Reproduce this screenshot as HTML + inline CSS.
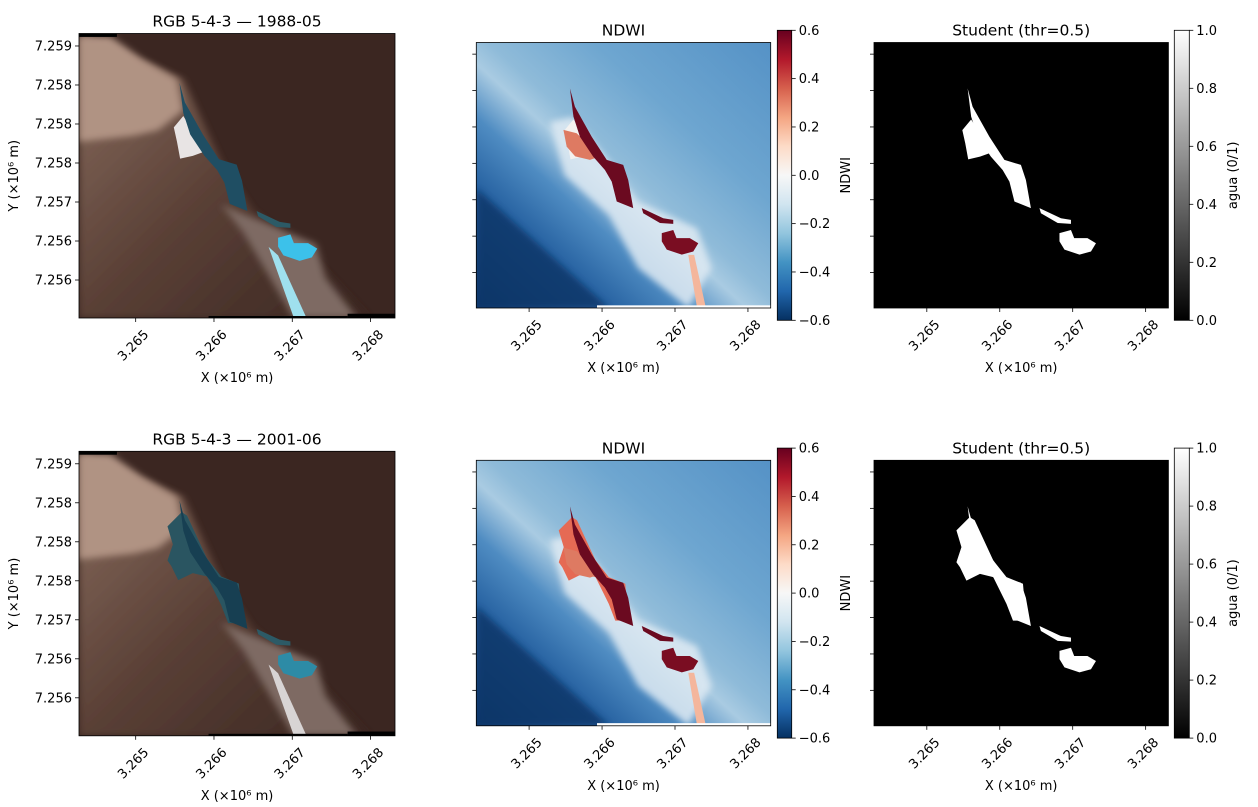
<!DOCTYPE html>
<html><head><meta charset="utf-8">
<style>
html,body{margin:0;padding:0;background:#fff;}
svg{display:block;font-family:"DejaVu Sans","Liberation Sans",sans-serif;}
</style></head>
<body>
<svg id="fig" width="1258" height="807" viewBox="0 0 1258 807" xmlns="http://www.w3.org/2000/svg">
<defs>
<linearGradient id="rdbu" x1="0" y1="0" x2="0" y2="1">
<stop offset="0" stop-color="#67001f"/><stop offset="0.1" stop-color="#b2182b"/><stop offset="0.2" stop-color="#d6604d"/><stop offset="0.3" stop-color="#f4a582"/><stop offset="0.4" stop-color="#fddbc7"/><stop offset="0.5" stop-color="#f7f7f7"/><stop offset="0.6" stop-color="#d1e5f0"/><stop offset="0.7" stop-color="#92c5de"/><stop offset="0.8" stop-color="#4393c3"/><stop offset="0.9" stop-color="#2166ac"/><stop offset="1" stop-color="#053061"/>
</linearGradient>
<linearGradient id="grays" x1="0" y1="0" x2="0" y2="1"><stop offset="0" stop-color="#ffffff"/><stop offset="1" stop-color="#000000"/></linearGradient>
<linearGradient id="ndwibg" x1="0" y1="1" x2="1" y2="0">
<stop offset="0" stop-color="#0b3a70"/><stop offset="0.22" stop-color="#245f9f"/><stop offset="0.36" stop-color="#4f8cc2"/><stop offset="0.46" stop-color="#a9cbe2"/><stop offset="0.52" stop-color="#8fbbd9"/><stop offset="0.7" stop-color="#6ea6d0"/><stop offset="1" stop-color="#5592c6"/>
</linearGradient>
<linearGradient id="landbg" x1="0" y1="0" x2="1" y2="1">
<stop offset="0" stop-color="#8a6e60"/><stop offset="0.5" stop-color="#5a4036"/><stop offset="1" stop-color="#3a2621"/>
</linearGradient>
<filter id="bl" x="-0.2" y="-0.2" width="1.4" height="1.4"><feGaussianBlur stdDeviation="0.012"/></filter>
</defs>
<g id="root"></g>
</svg>
<script>
const xTickValues = [3.265, 3.266, 3.267, 3.268];
const xTickLabels = ["3.265", "3.266", "3.267", "3.268"];
const yTickValues = [7.2590, 7.2585, 7.2580, 7.2575, 7.2570, 7.2565, 7.2560];
const yTickLabels = ["7.259", "7.258", "7.258", "7.258", "7.257", "7.256", "7.256"];
const xDomain = [3.264276, 3.268312];
const yDomain = [7.25916, 7.255513];
const ndwiTicks = [0.6, 0.4, 0.2, 0.0, -0.2, -0.4, -0.6];
const ndwiTickLabels = ["0.6", "0.4", "0.2", "0.0", "\u22120.2", "\u22120.4", "\u22120.6"];
const ndwiRange = [0.6, -0.6];
const maskTicks = [1.0, 0.8, 0.6, 0.4, 0.2, 0.0];
const maskTickLabels = ["1.0", "0.8", "0.6", "0.4", "0.2", "0.0"];
const maskRange = [1.0, 0.0];
const dates = ["1988-05", "2001-06"];

const channel = [[.318,.173],[.335,.242],[.392,.355],[.443,.442],[.499,.461],[.516,.518],[.533,.624],[.477,.599],[.460,.524],[.437,.480],[.397,.430],[.352,.355],[.330,.279]];
const link = [[.562,.624],[.635,.662],[.669,.668],[.669,.683],[.624,.680],[.567,.643]];
const heart = [[.630,.718],[.669,.706],[.680,.737],[.725,.737],[.754,.756],[.737,.787],[.698,.799],[.647,.780],[.630,.749]];
const orange = [[.296,.329],[.341,.342],[.375,.379],[.420,.429],[.386,.442],[.336,.429],[.307,.392]];
const upper1 = [[.30,.33],[.33,.29],[.37,.36],[.41,.41],[.36,.43],[.32,.44],[.31,.38]];
const upper2 = [[.280,.264],[.325,.214],[.342,.226],[.405,.377],[.450,.440],[.506,.465],[.517,.604],[.472,.604],[.450,.541],[.405,.440],[.360,.428],[.314,.453],[.292,.403],[.280,.384],[.297,.327]];

const NS = "http://www.w3.org/2000/svg";
const root = document.getElementById('root');
function el(tag, attrs, parent, text){
  const e = document.createElementNS(NS, tag);
  for (const k in attrs) e.setAttribute(k, attrs[k]);
  if (text !== undefined) e.textContent = text;
  (parent || root).appendChild(e);
  return e;
}
function pts(a){ return a.map(p => p[0] + "," + p[1]).join(" "); }

function axes(x0, y0, w, h){
  return {
    x: v => x0 + (v - xDomain[0]) / (xDomain[1] - xDomain[0]) * w,
    y: v => y0 + (v - yDomain[0]) / (yDomain[1] - yDomain[0]) * h
  };
}

function panel(row, kind, x0, y0, w, h, title){
  const g = el('g', {});
  
  
  const clipId = 'clip' + row + kind;
  const cp = el('clipPath', {id: clipId}, g);
  el('rect', {x: x0, y: y0, width: w, height: h}, cp);
  const img = el('g', {'clip-path': 'url(#' + clipId + ')'}, g);
  
  
  const s = el('g', {transform: `translate(${x0},${y0}) scale(${w},${h})`}, img);
  const up = row === 0 ? upper1 : upper2;
  if (kind === 'rgb') {
    el('rect', {x: 0, y: 0, width: 1, height: 1, fill: '#3b2621'}, s);
    el('polygon', {points: pts([[0,0],[.33,.16],[.45,.45],[.55,.62],[.75,.8],[.92,1],[0,1]]), fill: 'url(#landbg)', filter: 'url(#bl)'}, s);
    el('polygon', {points: '0,0.01 0.1,0.01 0.2,0.09 0.31,0.16 0.33,0.27 0.25,0.34 0.17,0.36 0,0.38', fill: '#b09383', filter: 'url(#bl)'}, s);
    el('polygon', {points: '0.45,0.6 0.53,0.64 0.62,0.68 0.75,0.74 0.78,0.86 0.88,1 0.68,1 0.6,0.85 0.52,0.7', fill: '#7e6a64', filter: 'url(#bl)'}, s);
    el('polygon', {points: pts(up), fill: row === 0 ? '#e8e4e4' : '#2a5561'}, s);
    el('polygon', {points: pts(channel), fill: row === 0 ? '#1f4e63' : '#173f52'}, s);
    el('polygon', {points: pts(link), fill: '#2c5a66'}, s);
    el('polygon', {points: pts(heart), fill: row === 0 ? '#3cc1ea' : '#2d8ba6'}, s);
    el('polygon', {points: '0.6,0.75 0.63,0.78 0.72,1 0.68,1', fill: row === 0 ? '#9fe0ee' : '#d8d4d4'}, s);
    el('rect', {x: 0, y: 0, width: 0.12, height: 0.012, fill: '#000'}, s);
    el('rect', {x: 0.85, y: 0.985, width: 0.15, height: 0.015, fill: '#000'}, s);
    el('rect', {x: 0.41, y: 0.993, width: 0.44, height: 0.007, fill: '#000'}, s);
  } else if (kind === 'ndwi') {
    el('rect', {x: 0, y: 0, width: 1, height: 1, fill: 'url(#ndwibg)'}, s);
    el('polygon', {points: '0,0.55 0.2,0.75 0.45,1 0,1', fill: '#0a3466', opacity: 0.8, filter: 'url(#bl)'}, s);
    el('polygon', {points: '0.25,0.3 0.33,0.28 0.45,0.45 0.55,0.6 0.75,0.7 0.8,0.85 0.72,1 0.55,0.85 0.45,0.65 0.3,0.5', fill: '#dfeaf3', opacity: 0.85, filter: 'url(#bl)'}, s);
    el('polygon', {points: pts(up), fill: row === 0 ? '#f4f2f0' : '#e56a54'}, s);
    el('polygon', {points: pts(orange), fill: '#de7a62'}, s);
    el('polygon', {points: pts(channel), fill: '#6b0a20'}, s);
    el('polygon', {points: pts(link), fill: '#6b0a20'}, s);
    el('polygon', {points: pts(heart), fill: '#7a0d22'}, s);
    el('polygon', {points: '0.72,0.8 0.74,0.8 0.78,1 0.75,1', fill: '#f4b69c'}, s);
    el('rect', {x: 0.41, y: 0.99, width: 0.59, height: 0.01, fill: '#fff'}, s);
  } else {
    el('rect', {x: 0, y: 0, width: 1, height: 1, fill: '#000'}, s);
    el('polygon', {points: pts(up), fill: '#fff'}, s);
    el('polygon', {points: pts(channel), fill: '#fff'}, s);
    el('polygon', {points: pts(link), fill: '#fff'}, s);
    el('polygon', {points: pts(heart), fill: '#fff'}, s);
  }
  el('rect', {x: x0, y: y0, width: w, height: h, fill: 'none', stroke: '#000', 'stroke-width': 0.8}, g);
  const ax = axes(x0, y0, w, h);
  const bottom = y0 + h;
  const tt = el('text', {x: x0 + w / 2, y: y0 - 7, 'text-anchor': 'middle', 'font-size': 15.5}, g, title);
  
  
  xTickValues.forEach((v, i) => {
    const tx = ax.x(v);
    el('line', {x1: tx, y1: bottom, x2: tx, y2: bottom + 4, stroke: '#000', 'stroke-width': 0.8}, g);
    const t = el('text', {x: tx - 2, y: bottom + 28, 'text-anchor': 'middle', 'dominant-baseline': 'central', 'font-size': 13, transform: `rotate(-45 ${tx - 2} ${bottom + 28})`}, g, xTickLabels[i]);
    
    
  });
  const xl = el('text', {x: x0 + w / 2, y: bottom + 64, 'text-anchor': 'middle', 'font-size': 13}, g, 'X (\u00d710\u2076 m)');
  
  
  yTickValues.forEach((v, i) => {
    const ty = ax.y(v);
    el('line', {x1: x0, y1: ty, x2: x0 - 4, y2: ty, stroke: '#000', 'stroke-width': 0.8}, g);
    if (kind === 'rgb') {
      const t = el('text', {x: x0 - 7, y: ty + 4.5, 'text-anchor': 'end', 'font-size': 13}, g, yTickLabels[i]);
      
      
    }
  });
  if (kind === 'rgb') {
    const yl = el('text', {x: 18, y: y0 + h / 2, 'text-anchor': 'middle', 'font-size': 13, transform: `rotate(-90 18 ${y0 + h / 2})`}, g, 'Y (\u00d710\u2076 m)');
    
    
  }
}

function colorbar(x0, y0, w, h, fill, ticks, labels, range, label, lx){
  const g = el('g', {});
  
  
  el('rect', {x: x0, y: y0, width: w, height: h, fill: fill, stroke: '#000', 'stroke-width': 0.8}, g);
  ticks.forEach((v, i) => {
    const ty = y0 + (v - range[0]) / (range[1] - range[0]) * h;
    el('line', {x1: x0 + w, y1: ty, x2: x0 + w + 4, y2: ty, stroke: '#000', 'stroke-width': 0.8}, g);
    const t = el('text', {x: x0 + w + 7, y: ty + 4.5, 'font-size': 13}, g, labels[i]);
    
    
  });
  const cl = el('text', {x: lx, y: y0 + h / 2, 'text-anchor': 'middle', 'font-size': 13, transform: `rotate(-90 ${lx} ${y0 + h / 2})`}, g, label);
  
  
}

[0, 1].forEach(row => {
  const dy = row * 417.8;
  panel(row, 'rgb', 79, 33.5 + dy, 316, 284.5, 'RGB 5-4-3 \u2014 ' + dates[row]);
  panel(row, 'ndwi', 476.3, 42.5 + dy, 294.4, 265.5, 'NDWI');
  panel(row, 'mask', 874, 42.5 + dy, 294.4, 265.5, 'Student (thr=0.5)');
  colorbar(777.3, 30.3 + dy, 14.4, 290, 'url(#rdbu)', ndwiTicks, ndwiTickLabels, ndwiRange, 'NDWI', 850);
  colorbar(1174.3, 30.3 + dy, 15, 290, 'url(#grays)', maskTicks, maskTickLabels, maskRange, 'agua (0/1)', 1237);
});
</script>
</body></html>
